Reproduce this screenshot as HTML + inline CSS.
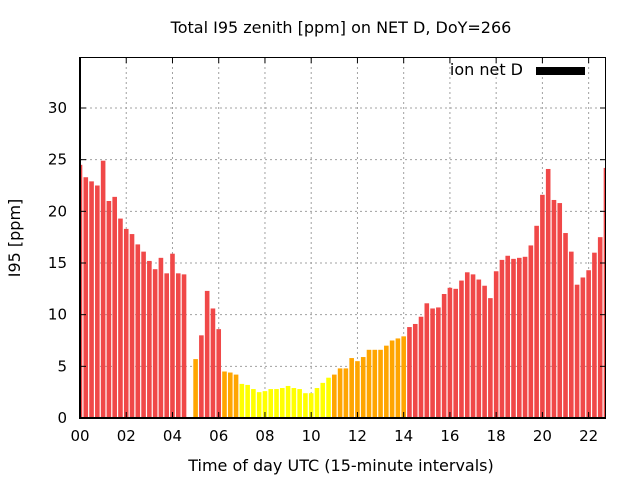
<!DOCTYPE html>
<html><head><meta charset="utf-8"><style>
html,body{margin:0;padding:0;background:#fff;}
svg{display:block;font-family:"DejaVu Sans","Liberation Sans",sans-serif;}
</style></head><body>
<svg id="chart" width="640" height="480" xmlns="http://www.w3.org/2000/svg">
<defs><clipPath id="pc"><rect x="80" y="57" width="526" height="361"/></clipPath></defs>
<text x="341" y="33" text-anchor="middle" font-size="16">Total I95 zenith [ppm] on NET D, DoY=266</text>
<g id="grid"></g>
<g id="bars" clip-path="url(#pc)"></g>
<g id="axes"></g>
<text transform="translate(20,238) rotate(-90)" text-anchor="middle" font-size="16">I95 [ppm]</text>
<text x="341" y="471" text-anchor="middle" font-size="16">Time of day UTC (15-minute intervals)</text>
<g>
<text x="523" y="75" text-anchor="end" font-size="16">ion net D</text>
<rect x="536" y="67" width="49" height="8" fill="#000"/>
</g>
</svg>
<script>
const values = [24.5,23.3,22.9,22.5,24.9,21.0,21.4,19.3,18.3,17.8,16.8,16.1,15.2,14.4,15.5,14.0,15.9,14.0,13.9,null,
5.7,8.0,12.3,10.6,8.6,4.5,4.4,4.2,3.3,3.2,2.8,2.5,2.6,2.8,2.8,2.9,3.1,2.9,2.8,2.4,
2.4,2.9,3.4,3.9,4.2,4.8,4.8,5.8,5.5,5.9,6.6,6.6,6.6,7.0,7.5,7.7,7.9,8.8,9.1,9.8,
11.1,10.6,10.7,12.0,12.6,12.5,13.3,14.1,13.9,13.4,12.8,11.6,14.2,15.3,15.7,15.4,15.5,15.6,16.7,18.6,
21.6,24.1,21.1,20.8,17.9,16.1,12.9,13.6,14.3,16.0,17.5,24.2];
const yTicks = [0,5,10,15,20,25,30];
const xTickHours = [0,2,4,6,8,10,12,14,16,18,20,22];
const xTickLabels = ["00","02","04","06","08","10","12","14","16","18","20","22"];
const NS="http://www.w3.org/2000/svg";
const L=80,R=606,T=57,B=418;
function yS(v){return B-v*(B-108)/30;}
function xH(h){return L+h*23.12;}
function xSlot(i){return xH(i*0.25);}
function mk(tag,attrs,parent){const e=document.createElementNS(NS,tag);for(const k in attrs)e.setAttribute(k,attrs[k]);parent.appendChild(e);return e;}
const grid=document.getElementById('grid'),bars=document.getElementById('bars'),axes=document.getElementById('axes');
yTicks.forEach(v=>{
  const y=yS(v);
  if(v>0){const g=mk('line',{x1:L,x2:R,y1:y,y2:y,stroke:'#a0a0a0','stroke-dasharray':'2,3','stroke-width':1},grid);
  
  }
  const t=mk('line',{x1:L,x2:L+6,y1:y,y2:y,stroke:'#000','stroke-width':1},axes);
  
  
  const t2=mk('line',{x1:R-6,x2:R,y1:y,y2:y,stroke:'#000','stroke-width':1},axes);
  
  
  const lb=mk('text',{x:L-13,y:y+5,'text-anchor':'end','font-size':15},axes);
  
  
  lb.textContent=v;
});
xTickHours.forEach((h,i)=>{
  const x=xH(h);
  if(h>0){const g=mk('line',{x1:x,x2:x,y1:T,y2:B,stroke:'#a0a0a0','stroke-dasharray':'2,3','stroke-width':1},grid);
  
  }
  const t=mk('line',{x1:x,x2:x,y1:B-6,y2:B,stroke:'#000','stroke-width':1},axes);
  
  
  const t2=mk('line',{x1:x,x2:x,y1:T,y2:T+6,stroke:'#000','stroke-width':1},axes);
  
  
  const lb=mk('text',{x:x,y:B+23,'text-anchor':'middle','font-size':15},axes);
  
  
  lb.textContent=xTickLabels[i];
});
values.forEach((v,i)=>{
  if(v===null)return;
  const c=v>=8?'#f04848':(v>=4?'#ffa500':'#ffff00');
  const x=xSlot(i),y=yS(v);
  const r=mk('rect',{x:x-2.3,y:y,width:4.6,height:B-y,fill:c},bars);
  
  
});
const fr=mk('rect',{x:L+0.5,y:T+0.5,width:R-L-1,height:B-T-1,fill:'none',stroke:'#000','stroke-width':1},axes);


const la=mk('line',{x1:L,x2:L,y1:T,y2:B+1,stroke:'#000','stroke-width':2},axes);


const ba=mk('line',{x1:L-1,x2:R,y1:B,y2:B,stroke:'#000','stroke-width':2},axes);


</script>
</body></html>
